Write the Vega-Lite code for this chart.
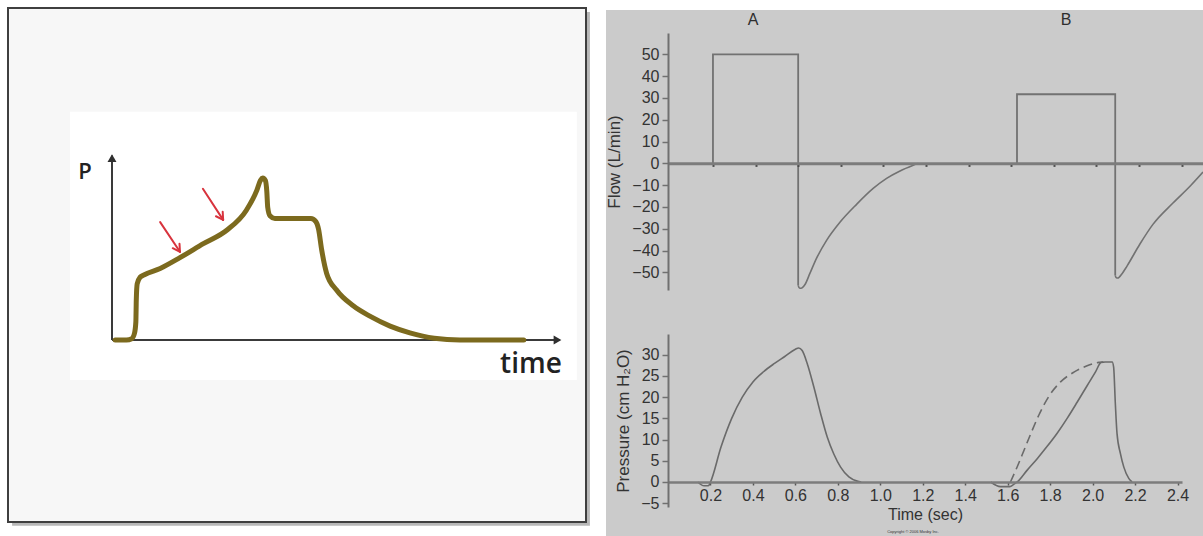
{
  "$schema": "https://vega.github.io/schema/vega-lite/v6.json",
  "background": "white",
  "padding": {"left": 7, "top": 7, "right": 0, "bottom": 0},
  "config": {"view": {"stroke": null}, "axis": {"labelFont": "Liberation Sans", "titleFont": "Liberation Sans", "grid": false}},
  "bounds": "flush",
  "spacing": 82,
  "hconcat": [
    {
      "width": 578,
      "height": 514,
      "encoding": {
        "x": {"field": "x", "type": "quantitative", "scale": {"domain": [-23.11, 105.33], "nice": false, "zero": false}, "axis": null},
        "y": {"field": "y", "type": "quantitative", "scale": {"domain": [-40.44, 73.78], "nice": false, "zero": false}, "axis": null}
      },
      "layer": [
        {"data": {"values": [{"x": -22.2, "x2": 106.2, "y": 72.9, "y2": -41.3}]}, "mark": {"type": "rect", "color": "#b8b8b8", "clip": false}, "encoding": {"x2": {"field": "x2"}, "y2": {"field": "y2"}}},
        {"data": {"values": [{"x": -23.11, "x2": 105.33, "y": 73.78, "y2": -40.44}]}, "mark": {"type": "rect", "fill": "#f7f7f7", "stroke": "#3f3f3f", "strokeWidth": 2, "clip": false}, "encoding": {"x2": {"field": "x2"}, "y2": {"field": "y2"}}},
        {"data": {"values": [{"x": -9.33, "x2": 103.3, "y": 50.7, "y2": -8.9}]}, "mark": {"type": "rect", "color": "#ffffff"}, "encoding": {"x2": {"field": "x2"}, "y2": {"field": "y2"}}},
        {"data": {"values": [{"x": 0, "y": 0, "x2": 0, "y2": 41.0}, {"x": 0, "y": 0, "x2": 99.5, "y2": 0}]}, "mark": {"type": "rule", "color": "#3a3a3a", "strokeWidth": 2}, "encoding": {"x2": {"field": "x2"}, "y2": {"field": "y2"}}},
        {"data": {"values": [{"x": 0, "y": 40.4}]}, "mark": {"type": "point", "shape": "triangle-up", "filled": true, "color": "#2f2f2f", "size": 80, "opacity": 1}},
        {"data": {"values": [{"x": 99.0, "y": 0}]}, "mark": {"type": "point", "shape": "triangle-right", "filled": true, "color": "#2f2f2f", "size": 80, "opacity": 1}},
        {
          "data": {"values": [
            {"x": 0.7, "y": 0}, {"x": 3.2, "y": 0}, {"x": 4.4, "y": 0.3}, {"x": 5.0, "y": 1.5}, {"x": 5.3, "y": 4}, {"x": 5.4, "y": 9},
            {"x": 5.6, "y": 12.5}, {"x": 6.2, "y": 13.9}, {"x": 7.2, "y": 14.5}, {"x": 10.7, "y": 15.9}, {"x": 15.1, "y": 18.3},
            {"x": 20.3, "y": 21.4}, {"x": 25.5, "y": 24.4}, {"x": 29.9, "y": 28.9}, {"x": 32.2, "y": 33.3}, {"x": 33.0, "y": 35.5},
            {"x": 33.5, "y": 36.0}, {"x": 34.1, "y": 35.4}, {"x": 34.4, "y": 33}, {"x": 34.6, "y": 29.5}, {"x": 35.1, "y": 27.6},
            {"x": 36.2, "y": 27.0}, {"x": 40, "y": 27.0}, {"x": 44.2, "y": 27.0}, {"x": 45.3, "y": 26.3}, {"x": 45.9, "y": 24.6},
            {"x": 46.6, "y": 20}, {"x": 47.7, "y": 14.8}, {"x": 49.9, "y": 11.1}, {"x": 53.6, "y": 7.6}, {"x": 57.3, "y": 5.3},
            {"x": 61.8, "y": 3.1}, {"x": 66.2, "y": 1.6}, {"x": 71.6, "y": 0.4}, {"x": 77.3, "y": 0}, {"x": 91.5, "y": 0}
          ]},
          "mark": {"type": "line", "color": "#7c6a1e", "strokeWidth": 5, "interpolate": "monotone", "strokeCap": "round", "strokeJoin": "round"}
        },
        {
          "data": {"values": [
            {"x": 10.7, "y": 26.2, "x2": 15.1, "y2": 19.6},
            {"x": 15.1, "y": 19.6, "x2": 15.0, "y2": 21.4},
            {"x": 15.1, "y": 19.6, "x2": 13.5, "y2": 20.4},
            {"x": 20.2, "y": 33.6, "x2": 24.7, "y2": 26.7},
            {"x": 24.7, "y": 26.7, "x2": 24.6, "y2": 28.5},
            {"x": 24.7, "y": 26.7, "x2": 23.1, "y2": 27.5}
          ]},
          "mark": {"type": "rule", "color": "#d8333d", "strokeWidth": 2, "strokeCap": "round"},
          "encoding": {"x2": {"field": "x2"}, "y2": {"field": "y2"}}
        },
        {"data": {"values": [{"x": -6.0, "y": 37.3, "label": "P"}]}, "mark": {"type": "text", "font": "Open Sans", "fontSize": 22, "fontWeight": 600, "color": "#222222"}, "encoding": {"text": {"field": "label"}}},
        {"data": {"values": [{"x": 93.1, "y": -5.6, "label": "time"}]}, "mark": {"type": "text", "font": "Open Sans", "fontSize": 28, "fontWeight": 600, "color": "#222222"}, "encoding": {"text": {"field": "label"}}}
      ]
    },
    {
      "bounds": "flush",
      "spacing": 5,
      "vconcat": [
        {
          "width": 535,
          "height": 20,
          "encoding": {
            "x": {"field": "t", "type": "quantitative", "scale": {"domain": [-0.011, 2.5], "nice": false, "zero": false}, "axis": null},
            "y": {"field": "v", "type": "quantitative", "scale": {"domain": [0, 1], "nice": false, "zero": false}, "axis": null}
          },
          "layer": [
            {"data": {"values": [{"t": -0.302, "t2": 2.52, "v": 0.9, "v2": -25.4}]}, "mark": {"type": "rect", "color": "#cbcbcb", "clip": false}, "encoding": {"x2": {"field": "t2"}, "y2": {"field": "v2"}}},
            {"data": {"values": [{"t": 0.388, "v": 0.4, "label": "A"}, {"t": 1.857, "v": 0.4, "label": "B"}]}, "mark": {"type": "text", "font": "Liberation Sans", "fontSize": 16, "color": "#2e2e2e"}, "encoding": {"text": {"field": "label"}}}
          ]
        },
        {
          "bounds": "flush",
          "spacing": 44,
          "vconcat": [
            {
              "width": 535,
              "height": 257,
              "encoding": {
                "x": {"field": "t", "type": "quantitative", "scale": {"domain": [-0.011, 2.5], "nice": false, "zero": false},
                  "axis": {"orient": "bottom", "offset": -126.65, "values": [0.2, 0.4, 0.6, 0.8, 1.0, 1.2, 1.4, 1.6, 1.8, 2.0, 2.2, 2.4], "labels": false, "title": null, "domainColor": "#7c7c7c", "domainWidth": 3, "tickColor": "#444444", "tickSize": 3, "tickWidth": 2, "zindex": 1}},
                "y": {"field": "f", "type": "quantitative", "scale": {"domain": [-58.1, 59.8], "nice": false, "zero": false},
                  "axis": {"values": [-50, -40, -30, -20, -10, 0, 10, 20, 30, 40, 50], "title": "Flow (L/min)", "domainColor": "#707070", "domainWidth": 2, "tickColor": "#707070", "tickSize": 6, "tickWidth": 1.5, "labelFontSize": 16, "labelColor": "#333333", "labelPadding": 3, "titleFontSize": 17, "titleFontWeight": "normal", "titleColor": "#333333", "titlePadding": 8, "zindex": 1}}
              },
              "layer": [
                {
                  "data": {"values": [
                    {"s": "A", "i": 1, "t": 0.2, "f": 0}, {"s": "A", "i": 2, "t": 0.2, "f": 50}, {"s": "A", "i": 3, "t": 0.6, "f": 50}, {"s": "A", "i": 4, "t": 0.6, "f": -56},
                    {"s": "B", "i": 1, "t": 1.627, "f": 0}, {"s": "B", "i": 2, "t": 1.627, "f": 31.7}, {"s": "B", "i": 3, "t": 2.088, "f": 31.7}, {"s": "B", "i": 4, "t": 2.088, "f": -51.5}
                  ]},
                  "mark": {"type": "line", "color": "#727272", "strokeWidth": 1.8},
                  "encoding": {"detail": {"field": "s"}, "order": {"field": "i", "type": "quantitative"}}
                },
                {
                  "data": {"values": [
                    {"s": "A", "t": 0.6, "f": -56}, {"s": "A", "t": 0.606, "f": -57.2}, {"s": "A", "t": 0.613, "f": -57.3}, {"s": "A", "t": 0.632, "f": -55.6},
                    {"s": "A", "t": 0.655, "f": -50.5}, {"s": "A", "t": 0.687, "f": -43.4}, {"s": "A", "t": 0.734, "f": -35.2}, {"s": "A", "t": 0.796, "f": -27.0},
                    {"s": "A", "t": 0.874, "f": -18.8}, {"s": "A", "t": 0.952, "f": -11.5}, {"s": "A", "t": 1.015, "f": -6.9}, {"s": "A", "t": 1.078, "f": -3.5},
                    {"s": "A", "t": 1.14, "f": -0.9}, {"s": "A", "t": 1.164, "f": 0},
                    {"s": "B", "t": 2.088, "f": -51.5}, {"s": "B", "t": 2.093, "f": -52.5}, {"s": "B", "t": 2.1, "f": -52.6}, {"s": "B", "t": 2.12, "f": -50.6},
                    {"s": "B", "t": 2.144, "f": -47.0}, {"s": "B", "t": 2.204, "f": -37.0}, {"s": "B", "t": 2.265, "f": -28.0}, {"s": "B", "t": 2.359, "f": -18.2},
                    {"s": "B", "t": 2.439, "f": -10.5}, {"s": "B", "t": 2.5, "f": -4.0}
                  ]},
                  "mark": {"type": "line", "color": "#727272", "strokeWidth": 1.6, "interpolate": "monotone"},
                  "encoding": {"detail": {"field": "s"}}
                }
              ]
            },
            {
              "width": 514,
              "height": 173,
              "encoding": {
                "x": {"field": "t", "type": "quantitative", "scale": {"domain": [0, 2.421], "nice": false, "zero": false},
                  "axis": {"orient": "bottom", "offset": -25, "values": [0.2, 0.4, 0.6, 0.8, 1.0, 1.2, 1.4, 1.6, 1.8, 2.0, 2.2, 2.4], "format": ".1f", "title": "Time (sec)", "domainColor": "#7c7c7c", "domainWidth": 2.5, "tickColor": "#555555", "tickSize": 3, "tickWidth": 1.5, "labelFontSize": 16, "labelColor": "#333333", "labelPadding": 2, "labelFlush": false, "titleFontSize": 16, "titleFontWeight": "normal", "titleColor": "#333333", "titlePadding": 3, "zindex": 1}},
                "y": {"field": "p", "type": "quantitative", "scale": {"domain": [-5.9, 34.9], "nice": false, "zero": false},
                  "axis": {"values": [-5, 0, 5, 10, 15, 20, 25, 30], "title": "Pressure (cm H₂O)", "domainColor": "#707070", "domainWidth": 2, "tickColor": "#707070", "tickSize": 6, "tickWidth": 1.5, "labelFontSize": 16, "labelColor": "#333333", "labelPadding": 3, "titleFontSize": 17, "titleFontWeight": "normal", "titleColor": "#333333", "titlePadding": 8, "zindex": 1}}
              },
              "layer": [
                {
                  "data": {"values": [
                    {"s": "A", "t": 0.14, "p": 0}, {"s": "A", "t": 0.17, "p": -0.9}, {"s": "A", "t": 0.19, "p": -0.9}, {"s": "A", "t": 0.2, "p": 0},
                    {"s": "A", "t": 0.25, "p": 8.3}, {"s": "A", "t": 0.3, "p": 15.0}, {"s": "A", "t": 0.35, "p": 20.0}, {"s": "A", "t": 0.4, "p": 23.6},
                    {"s": "A", "t": 0.45, "p": 26.0}, {"s": "A", "t": 0.5, "p": 27.9}, {"s": "A", "t": 0.55, "p": 29.6}, {"s": "A", "t": 0.6, "p": 31.3},
                    {"s": "A", "t": 0.615, "p": 31.6}, {"s": "A", "t": 0.632, "p": 31.0}, {"s": "A", "t": 0.656, "p": 27.9},
                    {"s": "A", "t": 0.687, "p": 22.4}, {"s": "A", "t": 0.719, "p": 16.1}, {"s": "A", "t": 0.75, "p": 10.6}, {"s": "A", "t": 0.781, "p": 6.6},
                    {"s": "A", "t": 0.813, "p": 3.5}, {"s": "A", "t": 0.852, "p": 1.2}, {"s": "A", "t": 0.891, "p": 0.2}, {"s": "A", "t": 0.91, "p": 0},
                    {"s": "B", "t": 1.52, "p": 0}, {"s": "B", "t": 1.566, "p": -1.1}, {"s": "B", "t": 1.61, "p": -1.1}, {"s": "B", "t": 1.63, "p": -0.5},
                    {"s": "B", "t": 1.645, "p": 0}, {"s": "B", "t": 1.692, "p": 2.8}, {"s": "B", "t": 1.739, "p": 5.5}, {"s": "B", "t": 1.786, "p": 8.4},
                    {"s": "B", "t": 1.833, "p": 11.5}, {"s": "B", "t": 1.88, "p": 15}, {"s": "B", "t": 1.927, "p": 18.8}, {"s": "B", "t": 1.974, "p": 22.7},
                    {"s": "B", "t": 2.013, "p": 25.9}, {"s": "B", "t": 2.04, "p": 28.2}, {"s": "B", "t": 2.06, "p": 28.3}, {"s": "B", "t": 2.092, "p": 28.3},
                    {"s": "B", "t": 2.099, "p": 27.1}, {"s": "B", "t": 2.107, "p": 18.5}, {"s": "B", "t": 2.115, "p": 11.4}, {"s": "B", "t": 2.131, "p": 6.7},
                    {"s": "B", "t": 2.147, "p": 3.5}, {"s": "B", "t": 2.171, "p": 0.8}, {"s": "B", "t": 2.186, "p": 0}
                  ]},
                  "mark": {"type": "line", "color": "#6a6a6a", "strokeWidth": 1.6, "interpolate": "monotone"},
                  "encoding": {"detail": {"field": "s"}}
                },
                {
                  "data": {"values": [
                    {"t": 1.613, "p": 0}, {"t": 1.645, "p": 3.6}, {"t": 1.677, "p": 7.5}, {"t": 1.708, "p": 11.3}, {"t": 1.747, "p": 15.8},
                    {"t": 1.794, "p": 20.2}, {"t": 1.849, "p": 23.6}, {"t": 1.912, "p": 25.9}, {"t": 1.974, "p": 27.4}, {"t": 2.029, "p": 28.2}, {"t": 2.05, "p": 28.3}
                  ]},
                  "mark": {"type": "line", "color": "#6a6a6a", "strokeWidth": 1.6, "interpolate": "monotone", "strokeDash": [9, 5]}
                },
                {
                  "data": {"values": [{"t": 1.154, "p": -11.8, "label": "Copyright © 2006 Mosby Inc."}]},
                  "mark": {"type": "text", "font": "Liberation Sans", "fontSize": 4, "color": "#333333", "clip": false},
                  "encoding": {"text": {"field": "label"}}
                }
              ]
            }
          ]
        }
      ]
    }
  ]
}
